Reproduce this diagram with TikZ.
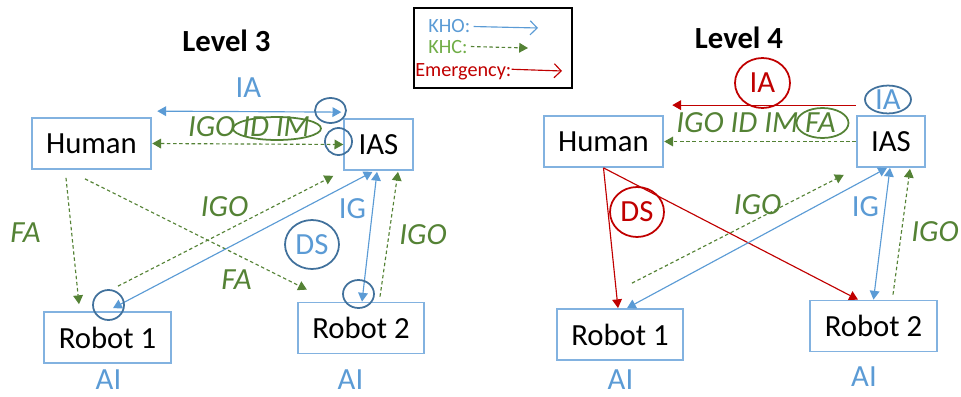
\documentclass[tikz,border=0pt]{standalone}
\usepackage{fontspec}
\setmainfont{Carlito}
\usetikzlibrary{arrows.meta,calc,shapes.geometric}

\definecolor{khoblue}{RGB}{91,155,213}
\definecolor{khcgreen}{RGB}{84,130,53}
\definecolor{legreen}{RGB}{112,173,71}
\definecolor{emred}{RGB}{192,0,0}
\definecolor{ringblue}{RGB}{65,113,156}
\definecolor{boxblue}{RGB}{130,178,224}
\newcommand{\bigtxt}{\fontsize{17.5pt}{21pt}\selectfont}

\begin{document}
\begin{tikzpicture}[x=0.02cm, y=-0.02cm,
    >={Triangle[length=5pt,width=5.5pt]},
    box/.style={draw=boxblue, line width=1pt, inner xsep=0.29cm, inner ysep=0pt,
        minimum height=1.02cm, font=\bigtxt},
    lbl/.style={inner sep=0pt, font=\bigtxt},
    igo/.style={lbl, khcgreen, font=\bigtxt\itshape},
    title/.style={inner sep=0pt, font=\bigtxt\bfseries},
    kho/.style={khoblue, line width=0.65pt},
    khc/.style={khcgreen, line width=0.65pt, dash pattern=on 2pt off 1.5pt},
    emg/.style={emred, line width=0.65pt},
    ring/.style={ringblue, line width=1pt},
    legtxt/.style={inner sep=0pt, anchor=base west, font=\fontsize{11.5pt}{13pt}\selectfont}]
    \useasboundingbox (0,0) rectangle (961,396);

    % Legend
    \draw[black, line width=0.75pt] (414,8) rectangle (572,88);
    \node[legtxt, khoblue] (khoT) at (428,32) {KHO:};
    \node[legtxt, legreen] (khcT) at (428,53) {KHC:};
    \node[legtxt, emred] (emgT) at (415,76) {Emergency:};
    \coordinate (khoE) at (538,28);
    \coordinate (khcE) at (528,48);
    \coordinate (emgE) at (562,71);
    \draw[kho, -{Straight Barb[length=4pt,width=8pt]}] ($(khoT.east)+(3,1)$) -- (khoE);
    \draw[khc, ->, khcgreen] ($(khcT.east)+(3,0)$) -- (khcE);
    \draw[emg, -{Straight Barb[length=4pt,width=8pt]}] ($(emgT.east)+(0,-2)$) -- (emgE);

    % Level 3
    \node[title] (lev3) at (226.5,41) {Level 3};
    \node[box] (hum3) at (91.5,143.5) {Human};
    \node[box] (ias3) at (378.5,144.5) {IAS};
    \node[box] (rob31) at (107.5,337.5) {Robot 1};
    \node[box] (rob32) at (361,328) {Robot 2};

    % Level 3 links
    \draw[kho, <->] ($(hum3.north east)+(5,-6)$) -- ($(ias3.north west)+(-2,-6)$);
    \draw[khc, <->] (hum3.east) -- (ias3.west);
    \draw[khc, ->] ($(hum3.south)+(-25.5,8)$) -- ($(rob31.north)+(-28.5,-7)$);
    \draw[khc, ->] ($(hum3.south)+(-6.5,9)$) -- ($(rob32.north west)+(10,-12)$);
    \draw[khc, ->] ($(rob31.north)+(10.5,-25)$) -- ($(ias3.south west)+(-10,5)$);
    \draw[kho, <->] ($(rob31.north)+(5.5,-3)$) -- ($(ias3.south)+(-6,1)$);
    \draw[kho, <->] ($(ias3.south)+(-1.5,1)$) -- ($(rob32.north)+(1,0)$);
    \draw[khc, ->] ($(rob32.north)+(19,-5)$) -- ($(ias3.south)+(19.5,1)$);

    % Level 3 labels
    \node[lbl, khoblue] (ia3) at (248.5,87.5) {IA};
    \node[igo] (igo3) at (249,127) {IGO ID IM};
    \node[igo] (fa31) at (25.5,233) {FA};
    \node[igo] (igo31) at (224.5,207) {IGO};
    \node[igo] (fa32) at (236.5,279.5) {FA};
    \node[lbl, khoblue] (ig3) at (352.5,209) {IG};
    \node[igo] (igo32) at (423,235) {IGO};
    \node[lbl, khoblue, draw=ringblue, line width=1pt, ellipse, minimum width=1.08cm,
        minimum height=0.98cm] (ds3) at (312,244.5) {DS};
    \node[lbl, khoblue] (ai31) at (108.5,380) {AI};
    \node[lbl, khoblue] (ai32) at (350.5,380) {AI};

    % Level 3 rings
    \draw[ring] (330.5,110.5) ellipse [x radius=0.31cm, y radius=0.25cm];
    \draw[ring] (338.5,141.5) circle [radius=0.27cm];
    \draw[khcgreen, line width=1pt] (277,128.5) ellipse [x radius=0.88cm, y radius=0.23cm];
    \draw[ring] (108.5,305) ellipse [x radius=0.31cm, y radius=0.3cm];
    \draw[ring] (358.5,294) ellipse [x radius=0.31cm, y radius=0.28cm];

    % Level 4
    \node[title] (lev4) at (739,38) {Level 4};
    \node[box] (hum4) at (603.5,141.5) {Human};
    \node[box] (ias4) at (891,141.5) {IAS};
    \node[box] (rob41) at (620,334.5) {Robot 1};
    \node[box] (rob42) at (873.5,326) {Robot 2};

    % Level 4 links
    \draw[emg, ->] ($(ias4.north west)+(0,-10)$) -- ($(hum4.north east)+(8,-10)$);
    \draw[khc, ->] (ias4.west) -- (hum4.east);
    \draw[emg, ->] (hum4.south) -- ($(rob41.north)+(-2,0)$);
    \draw[emg, ->] (hum4.south) -- ($(rob42.north)+(-15.5,0)$);
    \draw[khc, ->] ($(rob41.north)+(12,-25)$) -- ($(ias4.south west)+(-12,7)$);
    \draw[kho, <->] ($(rob41.north)+(7,0)$) -- ($(ias4.south)+(-4,0)$);
    \draw[kho, <->] ($(ias4.south)+(-1,0)$) -- (rob42.north);
    \draw[khc, ->] ($(rob42.north)+(19.5,-5)$) -- ($(ias4.south)+(19,1)$);

    % Level 4 labels
    \node[lbl, emred, draw=emred, line width=1pt, ellipse, minimum width=1.1cm,
        minimum height=1.0cm] (ia4) at (762.5,83) {IA};
    \node[lbl, khoblue, draw=ringblue, line width=1pt, ellipse, minimum width=0.92cm,
        minimum height=0.5cm] (ia4b) at (888,99.5) {IA};
    \node[igo] (igo4) at (756,123) {IGO ID IM FA};
    \node[lbl, emred, draw=emred, line width=1pt, ellipse, minimum width=1.08cm,
        minimum height=1.0cm] (ds4) at (637,212) {DS};
    \node[igo] (igo41) at (757.5,205) {IGO};
    \node[lbl, khoblue] (ig4) at (865.5,206.5) {IG};
    \node[igo] (igo42) at (935,232) {IGO};
    \node[lbl, khoblue] (ai41) at (620.5,379.5) {AI};
    \node[lbl, khoblue] (ai42) at (864,377) {AI};

    % Level 4 ring
    \draw[khcgreen, line width=1pt] (822.5,123) ellipse [x radius=0.52cm, y radius=0.3cm];
\end{tikzpicture}
\end{document}
